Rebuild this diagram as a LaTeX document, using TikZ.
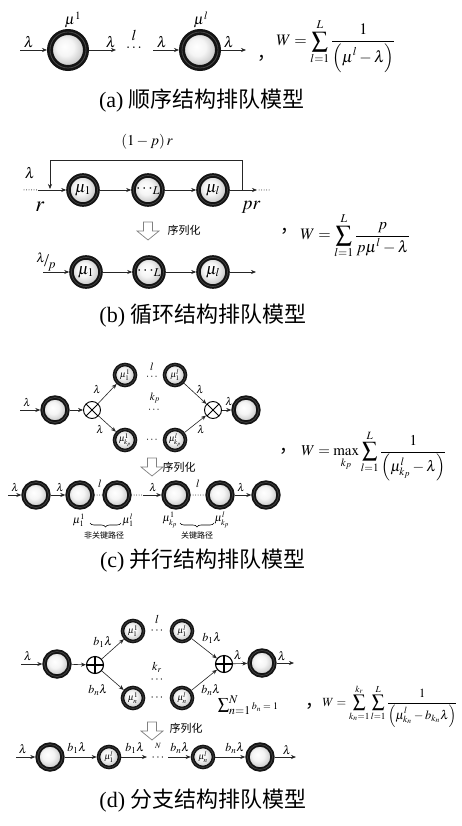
\documentclass[tikz,border=0pt]{standalone}
\usepackage{mathptmx}
\usepackage[no-math]{fontspec}
\setmainfont{Liberation Serif}
\newfontfamily\cjk{Noto Sans CJK SC}
\usetikzlibrary{arrows.meta,decorations.pathreplacing}
\newcommand\fsz[1]{\fontsize{#1}{#1}\selectfont}
\newcommand\bigfrac[2]{\frac{\displaystyle #1}{\displaystyle #2}}
\pgfdeclareradialshading{qshade}{\pgfpoint{-5bp}{5bp}}{color(0bp)=(white); color(12bp)=(white!96!black); color(22bp)=(black!18); color(25bp)=(black!25); color(50bp)=(black!25)}
\newcommand\hdarrow[2]{\draw[draw=black!50,fill=white,line width=0.7pt,line join=miter] (#1-4.5,#2-9) -- (#1+4.5,#2-9) -- (#1+4.5,#2) -- (#1+11,#2) -- (#1,#2+9) -- (#1-11,#2) -- (#1-4.5,#2) -- cycle;}
\tikzset{
  qbase/.style={circle,inner sep=0pt,draw=black!92,shading=qshade},
  qA/.style={qbase,minimum size=36pt,line width=6pt,postaction={draw=black!72,line width=0.8pt}},
  qB/.style={qbase,minimum size=29pt,line width=4.6pt,font=\fsz{16},postaction={draw=black!72,line width=0.6pt}},
  qC/.style={qbase,minimum size=25pt,line width=4.4pt,postaction={draw=black!72,line width=0.6pt}},
  qS/.style={qbase,minimum size=21pt,line width=3.6pt,font=\fsz{9},postaction={draw=black!72,line width=0.5pt}},
  arr/.style={-{Stealth[length=5pt,width=4pt]},line width=0.6pt,draw=black!85},
  dotl/.style={line width=1pt,dash pattern=on 0pt off 2.5pt,line cap=round,draw=black!85},
  labA/.style={inner sep=0pt,font=\fsz{15}},
  labC/.style={inner sep=0pt,font=\fsz{11}},
  labD/.style={inner sep=0pt,font=\fsz{12}},
  capstyle/.style={inner sep=0pt,font=\fsz{22}},
  cjklab/.style={inner sep=0pt,font=\cjk\fsz{11}},
  cjksmall/.style={inner sep=0pt,font=\cjk\fsz{8}},
  commast/.style={anchor=base west,inner sep=0pt,font=\cjk\fsz{18}},
  brc/.style={decorate,decoration={brace,amplitude=4pt},line width=0.6pt},
  otim/.style={circle,draw=black,line width=0.9pt,minimum size=17pt,inner sep=0pt,fill=white,
    path picture={\draw[line width=0.9pt] (path picture bounding box.north west) -- (path picture bounding box.south east) (path picture bounding box.north east) -- (path picture bounding box.south west);}},
  oplu/.style={circle,draw=black,line width=1.1pt,minimum size=17pt,inner sep=0pt,fill=white,
    path picture={\draw[line width=1.1pt] (path picture bounding box.north) -- (path picture bounding box.south) (path picture bounding box.east) -- (path picture bounding box.west);}}
}
\begin{document}
\begin{tikzpicture}[x=1pt,y=-1pt]
\useasboundingbox (0,0) rectangle (462,826);
\fill[white] (0,0) rectangle (462,826);

%% (a)
\node[qA] (qa1) at (68,50) {};
\node[qA] (qa2) at (200,50) {};
\coordinate (a0) at (20,50);
\coordinate (a1) at (116,50);
\coordinate (a2) at (153,50);
\coordinate (a3) at (246,50);
\draw[arr] (a0) -- (qa1);
\draw[arr] (qa1) -- (a1);
\draw[arr] (a2) -- (qa2);
\draw[arr] (qa2) -- (a3);
\node[labA] (la1) at (29,42) {$\lambda$};
\node[labA] (la2) at (111,42) {$\lambda$};
\node[labA] (la3) at (162,42) {$\lambda$};
\node[labA] (la4) at (229,42) {$\lambda$};
\node[labA] (mua1) at (73,20) {$\mu^{1}$};
\node[labA] (mua2) at (201,20) {$\mu^{l}$};
\node[labA] (lla) at (134,35) {$l$};
\node[labA] (dta) at (134,48) {$\ldots$};
\node[commast] (ca) at (257,60) {，};
\node (fa) at (336,46) {\fsz{16}$\displaystyle W=\sum_{l=1}^{L}\bigfrac{1}{\left(\mu^{l}-\lambda\right)}$};
\node[capstyle] (capa) at (202,101) {(a) {\cjk 顺序结构排队模型}};

%% (b)
\node (lb1) at (147,142) {\fsz{15}$\left(1-p\right)r$};
\node[qB] (qb1) at (83,190) {$\mu_1$};
\node[qB] (qb2) at (148,190) {$\cdots_{L}$};
\node[qB] (qb3) at (213,190) {$\mu_l$};
\draw[arr] (qb1) -- (qb2);
\draw[arr] (qb2) -- (qb3);
\coordinate (b00) at (24,190);
\coordinate (b0) at (38,190);
\draw[dotl] (b00) -- (b0);
\draw[arr] (b0) -- (qb1);
\coordinate (b1) at (257,190);
\coordinate (b11) at (259,190);
\coordinate (b12) at (269,190);
\draw[arr] (qb3) -- (b1);
\draw[dotl] (b11) -- (b12);
\coordinate (fbR) at (242,190);
\coordinate (fb1) at (242,160);
\coordinate (fb2) at (50,160);
\coordinate (fb3) at (50,189);
\draw[arr] (fbR) -- (fb1) -- (fb2) -- (fb3);
\node[labA] (lb2) at (30,173) {$\lambda$};
\node (lb3) at (40,207) {\fsz{22}$r$};
\node (lb4) at (251,207) {\fsz{19}$pr$};
\hdarrow{148}{231}
\node[cjklab] (sb) at (184,230) {序列化};
\node[qB] (qb4) at (86,272) {$\mu_1$};
\node[qB] (qb5) at (149,272) {$\cdots_{L}$};
\node[qB] (qb6) at (213,272) {$\mu_l$};
\coordinate (b2) at (43,272);
\coordinate (b3) at (256,272);
\draw[arr] (b2) -- (qb4);
\draw[arr] (qb4) -- (qb5);
\draw[arr] (qb5) -- (qb6);
\draw[arr] (qb6) -- (b3);
\node (lb5) at (46,262) {\fsz{13}\raisebox{4pt}{$\lambda$}\kern-1pt{\fsz{18}/}\kern-1pt\raisebox{-2pt}{$p$}};
\node[commast] (cb) at (280,233) {，};
\node (fbx) at (355,236) {\fsz{16}$\displaystyle W=\sum_{l=1}^{L}\bigfrac{p}{p\mu^{l}-\lambda}$};
\node[capstyle] (capb) at (203,316) {(b) {\cjk 循环结构排队模型}};

%% (c)
\node[qC] (qc1) at (55,410) {};
\node[otim] (oc1) at (92,410) {};
\node[qS] (qc2) at (125,375) {$\mu_1^1$};
\node[qS] (qc3) at (175,375) {$\mu_1^l$};
\node[qS] (qc4) at (125,440) {$\mu_{k_p}^1$};
\node[qS] (qc5) at (175,440) {$\mu_{k_p}^l$};
\node[otim] (oc2) at (213,410) {};
\node[qC] (qc6) at (246,410) {};
\coordinate (c0) at (20,410);
\draw[arr] (c0) -- (qc1);
\draw[arr] (qc1) -- (oc1);
\draw[arr] (oc1) -- (qc2);
\draw[arr] (oc1) -- (qc4);
\draw[arr] (qc3) -- (oc2);
\draw[arr] (qc5) -- (oc2);
\draw[arr] (oc2) -- (qc6);
\node[labC] (lc1) at (27,402) {$\lambda$};
\node[labC] (lc2) at (97,389) {$\lambda$};
\node[labC] (lc3) at (100,429) {$\lambda$};
\node[labC] (lc4) at (200,389) {$\lambda$};
\node[labC] (lc5) at (201,429) {$\lambda$};
\node[labC] (lc6) at (229,401) {$\lambda$};
\node[labC] (lc7) at (152,367) {$l$};
\node[labC] (lc8) at (152,377) {$\cdots$};
\node[labC] (lc9) at (152,440) {$\cdots$};
\node[labC] (lc10) at (155,398) {$k_p$};
\node[labC] (lc11) at (154,410) {$\cdots$};
\node[commast] (cc) at (279,452) {，};
\node (fc) at (374,456) {\fsz{15}$\displaystyle W=\max_{k_p}\sum_{l=1}^{L}\bigfrac{1}{\left(\mu_{k_p}^{l}-\lambda\right)}$};
\hdarrow{152}{467}
\node[cjklab] (sc) at (179,467) {序列化};
\node[qC] (qc7) at (36,495) {};
\node[qC] (qc8) at (80,495) {};
\node[qC] (qc9) at (117,495) {};
\node[qC] (qc10) at (176,495) {};
\node[qC] (qc11) at (220,495) {};
\node[qC] (qc12) at (266,495) {};
\coordinate (c1) at (8,495);
\coordinate (cm) at (143,495);
\draw[arr] (c1) -- (qc7);
\draw[arr] (qc7) -- (qc8);
\draw[dotl] (qc8) -- (qc9);
\draw[dotl] (qc9) -- (cm);
\draw[arr] (cm) -- (qc10);
\draw[dotl] (qc10) -- (qc11);
\draw[arr] (qc11) -- (qc12);
\node[labC] (lc12) at (15,487) {$\lambda$};
\node[labC] (lc13) at (60,487) {$\lambda$};
\node[labC] (lc14) at (100,484) {$l$};
\node[labC] (lc15) at (153,487) {$\lambda$};
\node[labC] (lc16) at (198,484) {$l$};
\node[labC] (lc17) at (241,487) {$\lambda$};
\node[labC] (lc18) at (79,520) {$\mu_1^1$};
\node[labC] (lc19) at (128,520) {$\mu_1^l$};
\node[labC] (lc20) at (170,520) {$\mu_{k_p}^1$};
\node[labC] (lc21) at (222,520) {$\mu_{k_p}^l$};
\coordinate (br1a) at (90,523);
\coordinate (br1b) at (121,523);
\coordinate (br2a) at (180,523);
\coordinate (br2b) at (214,523);
\draw[brc] (br1b) -- (br1a);
\draw[brc] (br2b) -- (br2a);
\node[cjksmall] (nc1) at (104,535) {非关键路径};
\node[cjksmall] (nc2) at (197,535) {关键路径};
\node[capstyle] (capc) at (203,561) {(c) {\cjk 并行结构排队模型}};

%% (d)
\node[qC] (qd1) at (57,664) {};
\node[oplu] (od1) at (95,665) {};
\node[qS] (qd2) at (133,631) {$\mu_1^1$};
\node[qS] (qd3) at (182,631) {$\mu_1^l$};
\node[qS] (qd4) at (133,698) {$\mu_n^1$};
\node[qS] (qd5) at (182,698) {$\mu_n^l$};
\node[oplu] (od2) at (224,664) {};
\node[qC] (qd6) at (262,663) {};
\coordinate (d0) at (21,664);
\coordinate (dout) at (294,663);
\draw[arr] (d0) -- (qd1);
\draw[arr] (qd1) -- (od1);
\draw[arr] (od1) -- (qd2);
\draw[arr] (od1) -- (qd4);
\draw[arr] (qd3) -- (od2);
\draw[arr] (qd5) -- (od2);
\draw[arr] (od2) -- (qd6);
\draw[arr] (qd6) -- (dout);
\node[labD] (ld1) at (28,656) {$\lambda$};
\node[labD] (ld2) at (103,642) {$b_1\lambda$};
\node[labD] (ld3) at (98,690) {$b_n\lambda$};
\node[labD] (ld4) at (212,638) {$b_1\lambda$};
\node[labD] (ld5) at (211,690) {$b_n\lambda$};
\node[labD] (ld6) at (238,655) {$\lambda$};
\node[labD] (ld7) at (282,656) {$\lambda$};
\node[labD] (ld8) at (157,619) {$l$};
\node[labD] (ld9) at (157,631) {$\cdots$};
\node[labD] (ld10) at (157,698) {$\cdots$};
\node[labD] (ld11) at (157,667) {$k_r$};
\node[labD] (ld12) at (157,680) {$\cdots$};
\node[inner sep=0pt] (ld13) at (248,705) {\fsz{16}$\sum\nolimits_{n=1}^{N}$\fsz{10}$\,b_n=1$};
\node[commast] (cd) at (305,707) {，};
\node (fd) at (390,706) {\fsz{12.5}$\displaystyle W=\sum_{k_n=1}^{k_r}\sum_{l=1}^{L}\bigfrac{1}{\left(\mu_{k_n}^{l}-b_{k_n}\lambda\right)}$};
\hdarrow{152}{731}
\node[cjklab] (sd) at (186,728) {序列化};
\node[qC] (qd7) at (50,757) {};
\node[qS] (qd8) at (109,757) {$\mu_1^l$};
\node[qS] (qd9) at (203,757) {$\mu_n^l$};
\node[qC] (qd10) at (260,757) {};
\coordinate (d1) at (16,757);
\coordinate (d2) at (147,757);
\coordinate (d3) at (168,757);
\coordinate (d4) at (296,757);
\draw[arr] (d1) -- (qd7);
\draw[arr] (qd7) -- (qd8);
\draw[arr] (qd8) -- (d2);
\draw[arr] (d3) -- (qd9);
\draw[arr] (qd9) -- (qd10);
\draw[arr] (qd10) -- (d4);
\node[labD] (ld14) at (23,749) {$\lambda$};
\node[labD] (ld15) at (77,748) {$b_1\lambda$};
\node[labD] (ld16) at (135,748) {$b_1\lambda$};
\node[inner sep=0pt,font=\fsz{8}] (ld17) at (158,746) {$N$};
\node[labD] (ld18) at (158,758) {$\cdots$};
\node[labD] (ld19) at (180,748) {$b_n\lambda$};
\node[labD] (ld20) at (235,748) {$b_n\lambda$};
\node[labD] (ld21) at (287,750) {$\lambda$};
\node[capstyle] (capd) at (203,801) {(d) {\cjk 分支结构排队模型}};
\end{tikzpicture}
\end{document}
